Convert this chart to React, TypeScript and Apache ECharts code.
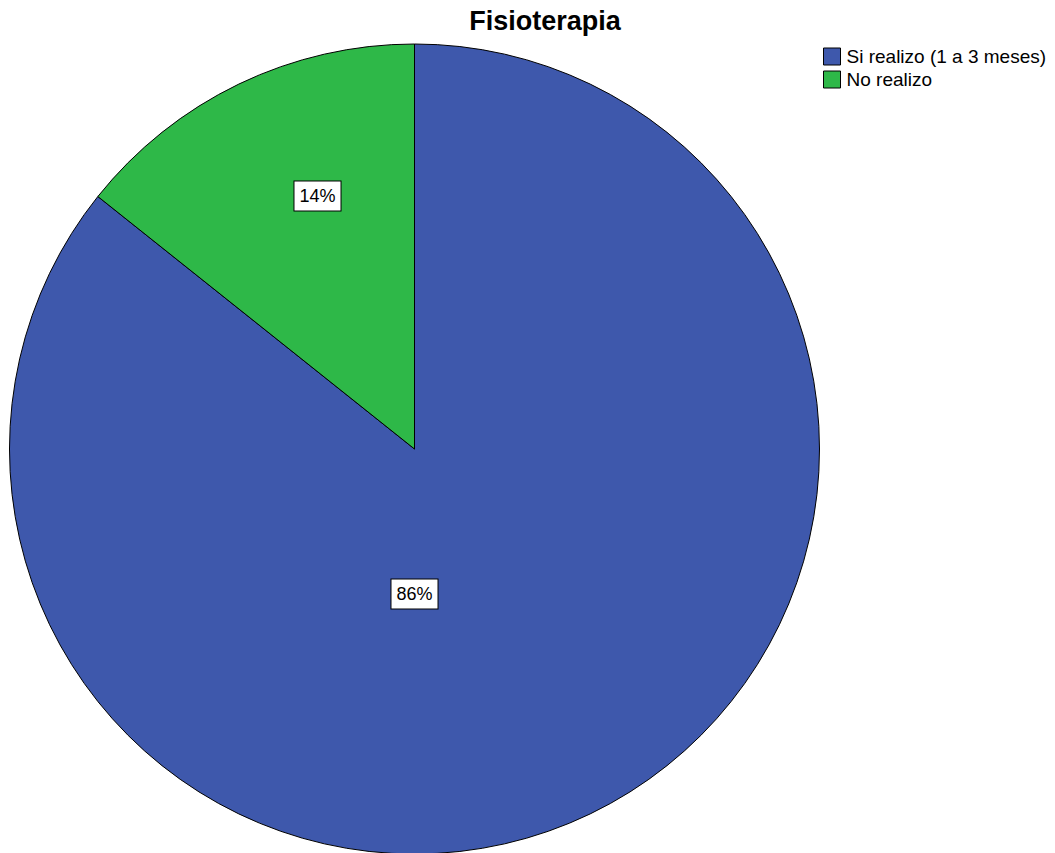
import React, { useEffect, useRef } from "react";
import * as echarts from "echarts";

const categories = ["Si realizo (1 a 3 meses)", "No realizo"];
const counts = [36, 6];
const colors = ["#3E58AC", "#2EB848"];
const labelOffsets = [
  [0, 145],
  [-97, -253],
];

export default function App() {
  const ref = useRef<HTMLDivElement>(null);
  useEffect(() => {
    if (!ref.current) return;
    const chart = echarts.init(ref.current, null, { renderer: "svg" });
    const font = "'Liberation Sans', Arial, sans-serif";
    chart.setOption({
      animation: false,
      backgroundColor: "#ffffff",
      title: {
        text: "Fisioterapia",
        left: 545,
        top: 7,
        padding: 0,
        textAlign: "center",
        textStyle: { fontFamily: font, fontSize: 27, fontWeight: "bold", color: "#000" },
      },
      legend: {
        orient: "vertical",
        left: 823,
        top: 47,
        padding: 0,
        itemWidth: 17,
        itemHeight: 17,
        itemGap: 4,
        icon: "rect",
        selectedMode: false,
        itemStyle: { borderColor: "#000", borderWidth: 1 },
        textStyle: {
          fontFamily: font,
          fontSize: 19,
          lineHeight: 19,
          color: "#000",
          padding: [0, 0, 0, 1],
        },
        data: categories,
      },
      series: [
        {
          type: "pie",
          center: [414.5, 449],
          radius: 405,
          startAngle: 90,
          clockwise: true,
          percentPrecision: 0,
          label: {
            show: true,
            position: "center",
            formatter: "{d}%",
            fontFamily: font,
            fontSize: 18,
            color: "#000",
            backgroundColor: "#fff",
            borderColor: "#000",
            borderWidth: 1,
            padding: [6, 5, 5, 5],
          },
          labelLine: { show: false },
          emphasis: { disabled: true },
          itemStyle: { borderColor: "#000", borderWidth: 1 },
          data: categories.map((name, i) => ({
            name,
            value: counts[i],
            itemStyle: { color: colors[i] },
            label: { offset: labelOffsets[i] },
          })),
        },
      ],
    });
    return () => chart.dispose();
  }, []);
  return (
    <div
      ref={ref}
      style={{ position: "absolute", left: 0, top: 0, width: 1055, height: 853 }}
    />
  );
}
